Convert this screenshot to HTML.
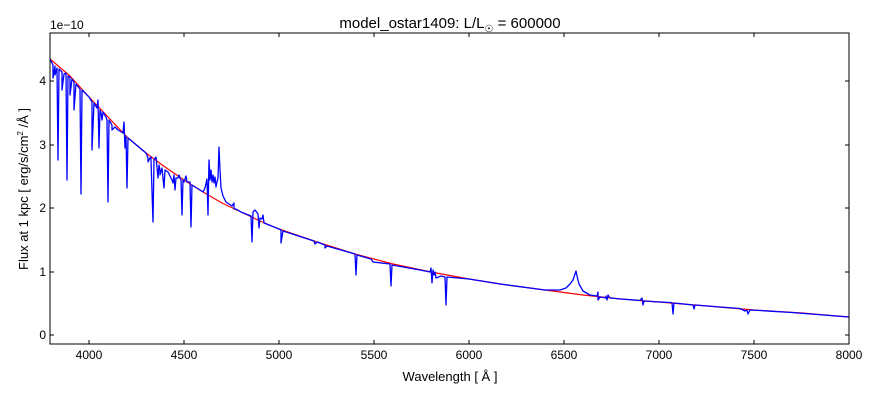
<!DOCTYPE html>
<html><head><meta charset="utf-8"><style>
body{margin:0;background:#fff;width:880px;height:400px;overflow:hidden}
text{font-family:"Liberation Sans",sans-serif}
</style></head><body>
<svg width="880" height="400" xmlns="http://www.w3.org/2000/svg">
<rect width="880" height="400" fill="#fff"/>
<defs><clipPath id="c"><rect x="50" y="33" width="799" height="311"/></clipPath></defs>
<g clip-path="url(#c)" fill="none" stroke-linejoin="round">
<path stroke="#f00" stroke-width="1.2" d="M50,59 L70,76 L89,97 L108,117 L127,137 L146,153 L165,167 L184,180 L203,192 L222,203 L241,212 L260,221 L279,229 L317,242 L355,254 L393,264 L431,272 L469,279 L507,285 L545,290 L583,295 L621,299 L659,302 L707,306 L754,310 L802,313 L849,317"/>
<path stroke="#00f" stroke-width="1.3" d="M50,59 L53,65 V78 L55,66 V75 L57,68 L58,160 L59,69 L62,72 V90 L64,74 L66,73 L67,180 L68,76 L70,77 V95 L72,79 L74,82 V110 L76,84 L80,89 L81,194 L82,90 L89,97 L92,102 V150 L94,103 L97,108 L98,100 L99,148 L100,110 L101,113 L102,120 L103,112 L106,117 L107,120 L108,202 L109,120 L112,125 V130 L115,127 L118,130 L123,133 L124,122 L125,148 L126,136 L127,188 L128,138 L146,153 L148,158 V162 L150,158 L151,157 V160 L153,222 L154,160 L156,157 L158,178 L159,165 L160,170 V175 L162,168 L164,188 L165,170 L168,172 L172,180 L173,183 L174,175 L175,190 L176,178 L178,178 L179,175 L180,178 L181,180 L182,215 L183,180 L184,182 L186,176 L187,182 L190,182 L191,227 L192,185 L200,190 L203,192 L205,188 L207,179 L208,215 L209,160 L210,180 L211,170 L212,182 L213,175 L214,183 L215,177 L216,187 L217,182 L218,178 L219,147 L220,170 L221,188 L223,196 L226,202 L232,206 L234,203 V209 L236,209 L241,212 L251,216 L252,242 L253,212 L255,210 L258,214 L259,228 L260,218 L262,219 L263,215 L264,223 L279,229 L281,230 V243 L283,231 L314,241 L315,244 L317,242 L325,245 V248 L327,246 L355,254 L356,275 L357,255 L371,259 L373,262 L390,264 L391,286 L392,265 L420,270 L430,272 L431,268 L432,283 L433,270 L434,275 L435,272 L436,278 L441,276 L445,277 L446,305 L447,277 L469,279 L500,284 L530,288 L545,290 L552,290 L560,290 L566,288 L570,284 L573,280 L575,274 L576,271 L577,276 L579,284 L583,291 L590,295 L597,296 L598,292 V300 L600,297 L606,298 V296 L607,300 L608,295 L610,298 L621,299 L640,300.5 L642,298 L643,305 L644,301 L659,302 L661,302 L672,302.6 L673,314 L674,303 L693,305 L694,309 L695,305 L720,307 L740,308.5 L745,311 L747,310 L748,314 L750,310 L760,310.5 L770,311.2 L790,312.4 L849,317"/>
</g>
<rect x="50" y="33" width="799" height="311" fill="none" stroke="#000" stroke-width="1"/>
<g stroke="#000" stroke-width="1">
<path d="M89,344v-4M89,33v4M279,344v-4M279,33v4M469,344v-4M469,33v4M659,344v-4M659,33v4M849,344v-4M849,33v4M184,344v-4M184,33v4M374,344v-4M374,33v4M564,344v-4M564,33v4M754,344v-4M754,33v4"/>
<path d="M50,335h4M849,335h-4M50,272h4M849,272h-4M50,208h4M849,208h-4M50,145h4M849,145h-4M50,81h4M849,81h-4"/>
</g>
<g font-size="12" text-anchor="middle" fill="#000">
<text x="89" y="359">4000</text><text x="184" y="359">4500</text><text x="279" y="359">5000</text><text x="374" y="359">5500</text><text x="469" y="359">6000</text><text x="564" y="359">6500</text><text x="659" y="359">7000</text><text x="754" y="359">7500</text><text x="849" y="359">8000</text>
</g>
<g font-size="12" text-anchor="end">
<text x="46" y="339">0</text><text x="46" y="276">1</text><text x="46" y="212">2</text><text x="46" y="149">3</text><text x="46" y="85">4</text>
</g>
<text x="50" y="29" font-size="12">1e−10</text>
<text x="450" y="28" font-size="15" text-anchor="middle">model_ostar1409: L/L<tspan font-size="10" dy="4">☉</tspan><tspan dy="-4"> = 600000</tspan></text>
<text x="450" y="381" font-size="13" text-anchor="middle">Wavelength [ Å ]</text>
<text transform="translate(28,189) rotate(-90)" font-size="13" text-anchor="middle">Flux at 1 kpc [ erg/s/cm<tspan font-size="8" dy="-5">2</tspan><tspan dy="5"> /Å ]</tspan></text>
</svg>
</body></html>
